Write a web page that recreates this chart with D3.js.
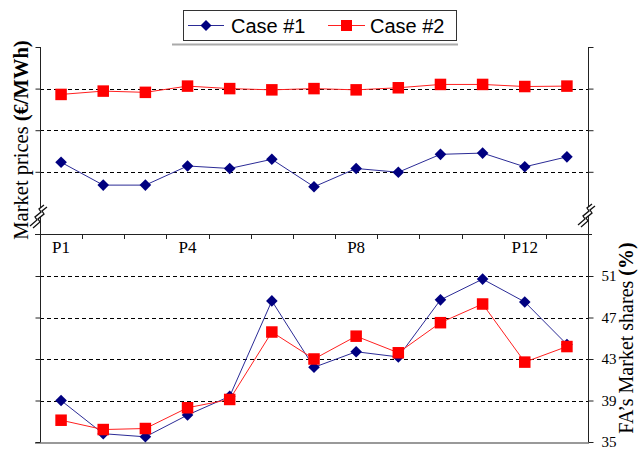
<!DOCTYPE html>
<html>
<head>
<meta charset="utf-8">
<script src="https://cdn.jsdelivr.net/npm/d3@7"></script>
<style>
  html, body { margin: 0; padding: 0; background: #fff; }
  svg { display: block; }
</style>
</head>
<body>
<script>
// ---------- data ----------
const categories = ["P1","P2","P3","P4","P5","P6","P7","P8","P9","P10","P11","P12","P13"];
const shownCategoryLabels = ["P1","P4","P8","P12"];
const seriesNames = ["Case #1", "Case #2"];
// Market prices (top panel, axis unlabelled in the original)
const priceCase1 = [32.3, 26.8, 26.8, 31.4, 30.8, 33.0, 26.4, 30.8, 29.9, 34.2, 34.5, 31.2, 33.6];
const priceCase2 = [48.6, 49.4, 49.1, 50.6, 50.0, 49.7, 50.0, 49.7, 50.2, 51.0, 51.0, 50.5, 50.6];
const priceTicks = [30, 40, 50, 60];
const priceGrid = [30, 40, 50];
// FA's market shares (bottom panel)
const shareCase1 = [39.0, 35.8, 35.5, 37.6, 39.4, 48.6, 42.2, 43.7, 43.2, 48.7, 50.7, 48.5, 44.4];
const shareCase2 = [37.1, 36.2, 36.3, 38.3, 39.1, 45.6, 43.0, 45.2, 43.6, 46.5, 48.3, 42.7, 44.2];
const shareTicks = [35, 39, 43, 47, 51];
const shareGrid = [39, 43, 47, 51];

// ---------- layout ----------
const W = 639, H = 453;
const pL = 40, pR = 588, pT = 47, pM = 234, pB = 442;
const blueMarker = "#000080", blueLine = "#2b2b96";
const redMarker = "#ff0000", redLine = "#ff2020";
const serif = "'Liberation Serif', 'Times New Roman', serif";
const sans = "'Liberation Sans', Arial, sans-serif";

const svg = d3.select("body").append("svg")
  .attr("width", W).attr("height", H)
  .style("background", "#fff");

const x = d3.scaleBand().domain(categories).range([pL, pR]);
const xc = c => x(c) + x.bandwidth() / 2;

const yPrice = d3.scaleLinear().domain([15.05, 60]).range([pM, pT]);
const yShare = d3.scaleLinear().domain([35, 35 + (pB - pM) / 10.375]).range([pB, pM]);

// gridlines
const grid = svg.append("g").attr("stroke", "#000").attr("stroke-width", 1)
  .attr("stroke-dasharray", "4,3");
grid.selectAll("line.gp").data(priceGrid).join("line").attr("class", "gp")
  .attr("x1", pL).attr("x2", pR)
  .attr("y1", d => Math.round(yPrice(d)) + 0.5).attr("y2", d => Math.round(yPrice(d)) + 0.5);
grid.selectAll("line.gs").data(shareGrid).join("line").attr("class", "gs")
  .attr("x1", pL).attr("x2", pR)
  .attr("y1", d => Math.round(yShare(d)) + 0.5).attr("y2", d => Math.round(yShare(d)) + 0.5);

// bottom axis line (grey)
svg.append("line").attr("x1", 35).attr("x2", pR + 1)
  .attr("y1", pB + 1).attr("y2", pB + 1)
  .attr("stroke", "#999").attr("stroke-width", 2);

function styleAxis(g) {
  g.selectAll("path.domain").remove();
  g.selectAll(".tick line").attr("stroke", "#222");
}
// left axis (ticks only)
svg.append("g").attr("transform", `translate(${pL + 0.5},0)`)
  .call(d3.axisLeft(yPrice).tickValues(priceTicks).tickSize(5).tickFormat(""))
  .call(styleAxis);
svg.append("g").attr("transform", `translate(${pL + 0.5},0)`)
  .call(d3.axisLeft(yShare).tickValues(shareTicks).tickSize(5).tickFormat(""))
  .call(styleAxis);
// right axis
svg.append("g").attr("transform", `translate(${pR + 0.5},0)`)
  .call(d3.axisRight(yPrice).tickValues(priceTicks).tickSize(5).tickFormat(""))
  .call(styleAxis);
const rAx = svg.append("g").attr("transform", `translate(${pR + 0.5},0)`)
  .call(d3.axisRight(yShare).tickValues(shareTicks).tickSize(5).tickPadding(8))
  .call(styleAxis);
rAx.selectAll("text").attr("font-family", serif).attr("font-size", 15)
  .attr("fill", "#000");

// vertical axis lines
svg.append("line").attr("x1", pL + 0.5).attr("x2", pL + 0.5)
  .attr("y1", pT).attr("y2", pB).attr("stroke", "#222");
svg.append("line").attr("x1", pR + 0.5).attr("x2", pR + 0.5)
  .attr("y1", pT).attr("y2", pB).attr("stroke", "#222");

// middle category axis
svg.append("line").attr("x1", 35).attr("x2", pR + 4)
  .attr("y1", pM + 0.5).attr("y2", pM + 0.5).attr("stroke", "#222");
svg.append("g").selectAll("line").data(categories.slice(1)).join("line")
  .attr("x1", d => Math.round(x(d)) + 0.5).attr("x2", d => Math.round(x(d)) + 0.5)
  .attr("y1", pM).attr("y2", pM + 5).attr("stroke", "#222");
svg.append("g").selectAll("text").data(shownCategoryLabels).join("text")
  .attr("x", d => xc(d)).attr("y", pM + 19)
  .attr("text-anchor", "middle")
  .attr("font-family", serif).attr("font-size", 17).attr("fill", "#000")
  .text(d => d);

// axis break symbols
function breakSymbol(cx, cy) {
  const g = svg.append("g").attr("transform", `translate(${cx},${cy})`);
  g.append("path").attr("d", "M-10,8 L-3,2 L-5,-1 L1,-6 L-1,-9 L4,-13 L7,-11 L2,-7 L4,-4 L-2,1 L0,4 L-7,10 Z")
    .attr("fill", "#fff").attr("stroke", "none");
  g.append("path").attr("d", "M-10,8 L-3,2 L-5,-1 L1,-6 L-1,-9 L4,-13")
    .attr("fill", "none").attr("stroke", "#111").attr("stroke-width", 1.3);
  g.append("path").attr("d", "M-7,10 L0,4 L-2,1 L4,-4 L2,-7 L7,-11")
    .attr("fill", "none").attr("stroke", "#111").attr("stroke-width", 1.3);
}
breakSymbol(pL, 218);
breakSymbol(pR, 217);

// series
const line = (ys, vals) => d3.line().x((d, i) => xc(categories[i])).y(d => ys(d))(vals);
const diamond = s => `M0,${-s} L${s},0 L0,${s} L${-s},0 Z`;

function drawSeries(vals, ys, kind) {
  const g = svg.append("g");
  g.append("path").attr("d", line(ys, vals)).attr("fill", "none")
    .attr("stroke", kind === 1 ? blueLine : redLine).attr("stroke-width", 1);
  if (kind === 1) {
    g.selectAll("path.m").data(vals).join("path").attr("class", "m")
      .attr("d", diamond(5.8))
      .attr("transform", (d, i) => `translate(${xc(categories[i])},${ys(d)})`)
      .attr("fill", blueMarker);
  } else {
    g.selectAll("rect").data(vals).join("rect")
      .attr("x", (d, i) => xc(categories[i]) - 5.75).attr("y", d => ys(d) - 5.75)
      .attr("width", 11.5).attr("height", 11.5)
      .attr("fill", redMarker);
  }
}
drawSeries(priceCase1, yPrice, 1);
drawSeries(priceCase2, yPrice, 2);
drawSeries(shareCase1, yShare, 1);
drawSeries(shareCase2, yShare, 2);

// axis titles
const lt = svg.append("text")
  .attr("transform", `translate(28,140) rotate(-90)`)
  .attr("text-anchor", "middle")
  .attr("font-family", serif).attr("font-size", 20.5).attr("fill", "#000");
lt.append("tspan").text("Market prices ");
lt.append("tspan").attr("font-weight", "bold").text("(€/MWh)");

const rt = svg.append("text")
  .attr("transform", `translate(633,338) rotate(-90)`)
  .attr("text-anchor", "middle")
  .attr("font-family", serif).attr("font-size", 20).attr("fill", "#000");
rt.append("tspan").text("FA’s Market shares ");
rt.append("tspan").attr("font-weight", "bold").text("(%)");

// legend
const lg = svg.append("g");
lg.append("line").attr("x1", 172).attr("x2", 458).attr("y1", 44.5).attr("y2", 44.5)
  .attr("stroke", "#aaa").attr("stroke-width", 2);
lg.append("rect").attr("x", 183.5).attr("y", 10.5).attr("width", 273).attr("height", 30)
  .attr("fill", "#fff").attr("stroke", "#333").attr("stroke-width", 1);
const legendItems = [
  { name: seriesNames[0], kind: 1, x0: 188, x1: 224, tx: 231 },
  { name: seriesNames[1], kind: 2, x0: 328, x1: 365, tx: 370 }
];
legendItems.forEach(it => {
  const cy = 25.5, cx = (it.x0 + it.x1) / 2;
  lg.append("line").attr("x1", it.x0).attr("x2", it.x1).attr("y1", cy).attr("y2", cy)
    .attr("stroke", it.kind === 1 ? blueLine : redLine);
  if (it.kind === 1) {
    lg.append("path").attr("d", diamond(5.5)).attr("transform", `translate(${cx},${cy})`)
      .attr("fill", blueMarker);
  } else {
    lg.append("rect").attr("x", cx - 5.5).attr("y", cy - 5.5).attr("width", 11).attr("height", 11)
      .attr("fill", redMarker);
  }
  lg.append("text").attr("x", it.tx).attr("y", 32.5)
    .attr("font-family", sans).attr("font-size", 20).attr("fill", "#000")
    .text(it.name);
});
</script>
</body>
</html>
